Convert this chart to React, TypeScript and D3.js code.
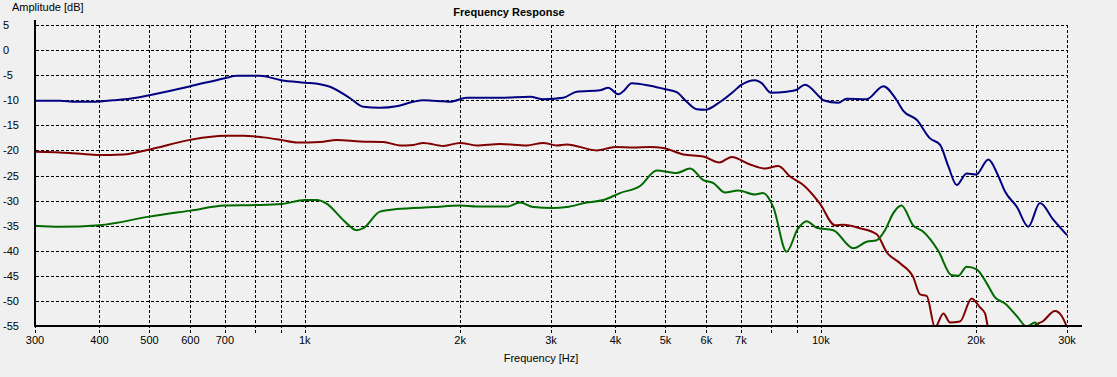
import React from "react";
import * as d3 from "d3";

const blueFreq = [300, 335, 360, 389, 425, 458, 500, 600, 700, 738, 818, 900, 1000, 1070, 1119, 1224, 1299, 1398, 1506, 1623, 1697, 1774, 1856, 1912, 2059, 2389, 2732, 2898, 3168, 3364, 3735, 3874, 4050, 4142, 4300, 4666, 5000, 5257, 5497, 5748, 5965, 6385, 6767, 7000, 7455, 7681, 8000, 8585, 8982, 9320, 9960, 10110, 10815, 11220, 12270, 13220, 14030, 14450, 15340, 16280, 17030, 17670, 18340, 19170, 20000, 21120, 22080, 22750, 23970, 25240, 26590, 28220, 30000];
const blueDb = [-10.1, -10.1, -10.3, -10.3, -10.0, -9.7, -9.0, -7.2, -5.6, -5.1, -5.1, -6.0, -6.5, -6.8, -7.3, -9.6, -11.3, -11.5, -11.2, -10.3, -10.0, -10.1, -10.2, -10.3, -9.5, -9.5, -9.3, -9.8, -9.5, -8.3, -8.0, -7.5, -8.8, -8.2, -6.6, -7.1, -7.8, -8.4, -10.3, -11.8, -11.9, -10.3, -8.3, -7.0, -6.0, -6.6, -8.5, -8.3, -7.9, -6.9, -9.4, -10.0, -10.5, -9.7, -9.8, -7.2, -10.0, -12.1, -13.9, -17.6, -18.9, -23.2, -26.9, -24.6, -24.8, -21.8, -25.1, -28.2, -31.2, -35.2, -30.5, -33.8, -36.9];

const redFreq = [300, 351, 395, 445, 500, 600, 700, 760, 831, 900, 965, 1070, 1153, 1280, 1420, 1529, 1623, 1697, 1856, 2000, 2153, 2389, 2692, 2898, 3077, 3217, 3678, 4000, 4330, 4666, 4953, 5415, 5922, 6361, 6717, 7290, 7794, 8272, 8717, 9249, 9960, 10650, 11058, 11911, 12834, 13420, 14240, 15110, 15570, 16040, 16650, 17280, 17800, 18610, 19600, 20350, 20810, 21120, 22500, 25000, 25810, 26990, 28430, 29300, 30000];
const redDb = [-20.25, -20.5, -20.9, -20.8, -19.8, -17.9, -17.1, -17.1, -17.4, -17.9, -18.4, -18.3, -17.9, -18.2, -18.3, -19.0, -18.9, -18.5, -19.1, -18.5, -19.0, -18.7, -19.0, -18.5, -19.0, -18.8, -20.0, -19.3, -19.4, -19.3, -19.5, -20.8, -21.2, -22.4, -21.3, -22.8, -23.6, -23.1, -25.2, -26.9, -30.6, -34.9, -34.8, -35.5, -36.7, -40.3, -42.5, -45.3, -48.7, -49.0, -55.3, -52.5, -54.3, -54.1, -49.5, -51.3, -52.5, -55.6, -60, -60, -55.2, -54.0, -52.0, -53.0, -55.2];

const greenFreq = [300, 335, 400, 500, 600, 700, 803, 900, 1000, 1054, 1102, 1188, 1260, 1299, 1398, 1506, 1774, 2000, 2153, 2462, 2613, 2773, 3031, 3217, 3517, 3790, 4080, 4464, 4807, 5257, 5581, 5922, 6192, 6523, 6921, 7455, 7730, 8090, 8585, 9030, 9390, 9818, 10573, 11563, 12270, 12834, 13320, 13820, 14330, 15110, 15800, 16890, 17930, 18470, 19170, 20050, 20970, 21760, 22750, 23970, 25070, 26000, 26590, 28000, 30000];
const greenDb = [-35.0, -35.2, -34.9, -33.2, -32.0, -31.0, -30.9, -30.7, -29.9, -29.9, -30.6, -33.9, -35.9, -35.5, -32.2, -31.7, -31.3, -31.0, -31.2, -31.2, -30.4, -31.3, -31.5, -31.3, -30.4, -29.9, -28.5, -27.1, -24.0, -24.5, -23.6, -25.9, -26.5, -28.4, -28.0, -28.8, -28.5, -31.3, -40.2, -35.6, -34.1, -35.4, -35.9, -39.5, -38.2, -37.9, -35.9, -32.5, -31.0, -35.0, -36.2, -40.0, -44.9, -45.0, -43.2, -43.7, -46.5, -49.3, -50.5, -53.0, -55.1, -54.3, -55.1, -57, -58];

const yTicks = [5, 0, -5, -10, -15, -20, -25, -30, -35, -40, -45, -50, -55];
const xGrid = [300, 400, 500, 600, 700, 800, 900, 1000, 2000, 3000, 4000, 5000, 6000, 7000, 8000, 9000, 10000, 20000, 30000];
const xLabels = [300, 400, 500, 600, 700, 1000, 2000, 3000, 4000, 5000, 6000, 7000, 10000, 20000, 30000];

const series = [
  { name: "blue", freq: blueFreq, db: blueDb, color: "#000080" },
  { name: "red", freq: redFreq, db: redDb, color: "#800000" },
  { name: "green", freq: greenFreq, db: greenDb, color: "#006A00" },
];

const W = 1117;
const H = 377;
const L = 35;
const R = 1067;
const T = 25;
const B = 326;

const fmt = (f: number) => (f >= 1000 ? `${f / 1000}k` : `${f}`);

export default function App() {
  const x = d3.scaleLog().domain([300, 30000]).range([L, R]);
  const y = d3.scaleLinear().domain([-55, 5]).range([B, T]);
  const line = d3
    .line<[number, number]>()
    .x((d) => x(d[0]))
    .y((d) => y(d[1]))
    .curve(d3.curveMonotoneX);
  const font = "'Liberation Sans', Arial, sans-serif";
  return (
    <>
      <style>{`body{margin:0;}`}</style>
      <svg width={W} height={H} style={{ display: "block", background: "#F0F0F0" }} fontFamily={font}>
        <rect x={0} y={0} width={W} height={H} fill="#F0F0F0" />
        <defs>
          <clipPath id="plotClip">
            <rect x={L} y={T - 5} width={R - L + 2} height={B - T + 5} />
          </clipPath>
        </defs>
        {/* horizontal grid */}
        {yTicks
          .filter((t) => t > -55)
          .map((t) => (
            <line key={`h${t}`} x1={L + 1} x2={R} y1={Math.round(y(t)) + 0.5} y2={Math.round(y(t)) + 0.5} stroke="#000" strokeWidth={1} strokeDasharray="3,2" />
          ))}
        {/* vertical grid with ticks below axis */}
        {xGrid.map((f) => (
          <line key={`v${f}`} x1={Math.round(x(f)) + 0.5} x2={Math.round(x(f)) + 0.5} y1={T} y2={B + 7} stroke="#000" strokeWidth={1} strokeDasharray="3,2" />
        ))}
        {/* curves */}
        <g clipPath="url(#plotClip)">
          {series.map((s) => (
            <path
              key={s.name}
              d={line(s.freq.map((f, i) => [f, s.db[i]] as [number, number])) || ""}
              fill="none"
              stroke={s.color}
              strokeWidth={2}
              strokeLinejoin="round"
            />
          ))}
        </g>
        {/* axes */}
        <line x1={L} x2={L} y1={20} y2={B + 1} stroke="#000" strokeWidth={2} />
        <line x1={L - 1} x2={1082} y1={B} y2={B} stroke="#000" strokeWidth={2} />
        {/* y labels */}
        {yTicks.map((t) => (
          <text key={`yl${t}`} x={3} y={y(t) + 4} fontSize={11} fill="#000">
            {t}
          </text>
        ))}
        {/* x labels */}
        {xLabels.map((f) => (
          <text key={`xl${f}`} x={x(f)} y={344} fontSize={11} fill="#000" textAnchor="middle">
            {fmt(f)}
          </text>
        ))}
        <text x={12} y={11} fontSize={11} fill="#000">
          Amplitude [dB]
        </text>
        <text x={509} y={16} fontSize={11} fontWeight="bold" fill="#000" textAnchor="middle">
          Frequency Response
        </text>
        <text x={541} y={362} fontSize={11} fill="#000" textAnchor="middle">
          Frequency [Hz]
        </text>
      </svg>
    </>
  );
}
